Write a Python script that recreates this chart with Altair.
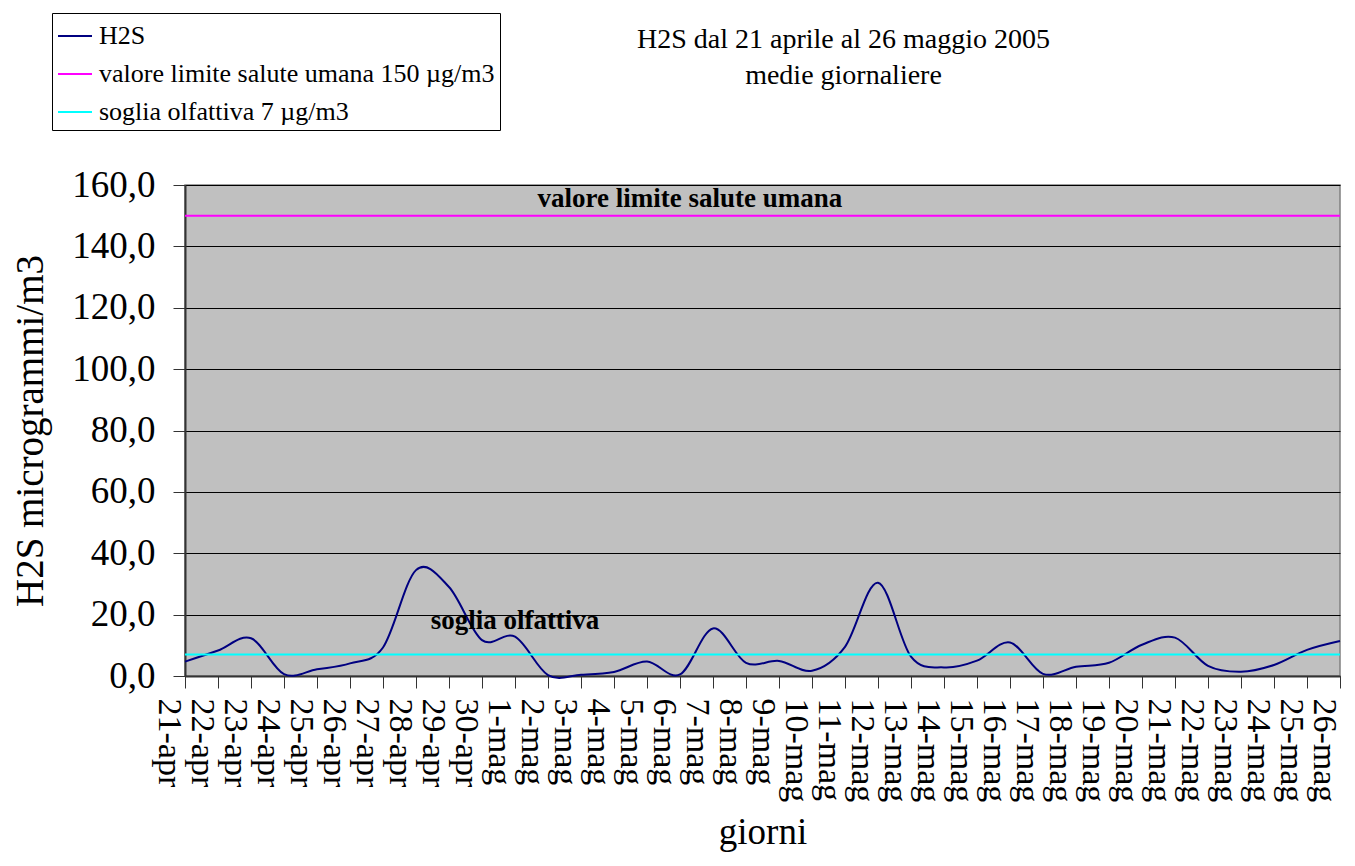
import altair as alt
import pandas as pd

days = ["21-apr", "22-apr", "23-apr", "24-apr", "25-apr", "26-apr", "27-apr", "28-apr",
        "29-apr", "30-apr", "1-mag", "2-mag", "3-mag", "4-mag", "5-mag", "6-mag",
        "7-mag", "8-mag", "9-mag", "10-mag", "11-mag", "12-mag", "13-mag", "14-mag",
        "15-mag", "16-mag", "17-mag", "18-mag", "19-mag", "20-mag", "21-mag", "22-mag",
        "23-mag", "24-mag", "25-mag", "26-mag"]
h2s = [4.7, 8.3, 12.3, 0.6, 2.2, 4.1, 9.3, 34.5, 29.0, 11.7, 12.8, 0.3,
       0.4, 1.3, 4.7, 0.5, 15.5, 4.3, 4.9, 1.7, 9.5, 30.4, 6.3, 2.8,
       5.0, 10.9, 0.7, 3.0, 4.3, 10.2, 12.5, 3.3, 1.4, 3.6, 8.5, 11.4]
limit_value = 150
odour_value = 7

series_names = ["H2S", "valore limite salute umana 150 µg/m3", "soglia olfattiva 7 µg/m3"]
series_colors = ["#000080", "#FF00FF", "#00FFFF"]

notes = ["valore limite salute umana", "soglia olfattiva"]
notes_x = [15.3, 10.0]
notes_y = [152.8, 15.3]

FONT = "Liberation Serif"

idx = list(range(len(days)))
df_h2s = pd.DataFrame({"idx": idx, "value": h2s, "serie": series_names[0]})
df_ref = pd.concat([
    pd.DataFrame({"idx": idx, "value": [limit_value] * len(days), "serie": series_names[1]}),
    pd.DataFrame({"idx": idx, "value": [odour_value] * len(days), "serie": series_names[2]}),
])
df_notes = pd.DataFrame({"label": notes, "idx": notes_x, "value": notes_y})

label_expr = "[" + ",".join("'" + d + "'" for d in days) + "][datum.value]"

x_axis = alt.Axis(values=idx, labelExpr=label_expr, labelAngle=90,
                  labelAlign="left", labelBaseline="top",
                  labelOverlap=False, labelFlush=False, labelBound=False,
                  labelFont=FONT, labelFontSize=34, labelColor="black",
                  labelPadding=10, tickSize=12, tickColor="#333333",
                  domainColor="#333333", domainWidth=2, grid=False,
                  title="giorni", titleFont=FONT, titleFontSize=37,
                  titleFontWeight="normal", titleColor="black",
                  titleBaseline="alphabetic", titleY=167)
y_axis = alt.Axis(values=list(range(0, 161, 20)),
                  labelExpr="replace(format(datum.value, '.1f'), '.', ',')",
                  labelFont=FONT, labelFontSize=37, labelColor="black",
                  labelPadding=18, tickSize=12, tickColor="#333333",
                  domainColor="#333333", domainWidth=2,
                  grid=True, gridColor="black", gridWidth=1,
                  title="H2S microgrammi/m3", titleFont=FONT, titleFontSize=39,
                  titleFontWeight="normal", titleColor="black",
                  titleBaseline="alphabetic", titleX=-143)

x_scale = alt.Scale(domain=[0, len(days) - 1], nice=False, zero=False)
y_scale = alt.Scale(domain=[0, 160], nice=False)

color_enc = alt.Color("serie:N",
                      scale=alt.Scale(domain=series_names, range=series_colors),
                      legend=alt.Legend(title=None, orient="none", legendX=-133, legendY=-172,
                                        symbolType="stroke", symbolSize=1156,
                                        symbolStrokeWidth=2, labelFont=FONT,
                                        labelFontSize=26, labelColor="black",
                                        labelOffset=6, rowPadding=7, padding=5,
                                        strokeColor="black", fillColor="white",
                                        labelLimit=600))

line_h2s = alt.Chart(df_h2s).mark_line(interpolate="cardinal", strokeWidth=2).encode(
    x=alt.X("idx:Q", scale=x_scale, axis=x_axis),
    y=alt.Y("value:Q", scale=y_scale, axis=y_axis),
    color=color_enc)
line_ref = alt.Chart(df_ref).mark_line(strokeWidth=2).encode(
    x=alt.X("idx:Q", scale=x_scale, axis=x_axis),
    y=alt.Y("value:Q", scale=y_scale, axis=y_axis),
    color=color_enc, detail="serie:N")
text_notes = alt.Chart(df_notes).mark_text(font=FONT, fontSize=27, fontWeight="bold",
                                           color="black", align="center",
                                           baseline="alphabetic").encode(
    x=alt.X("idx:Q", scale=x_scale, axis=x_axis),
    y=alt.Y("value:Q", scale=y_scale, axis=y_axis),
    text="label:N")

chart = alt.layer(line_h2s, line_ref, text_notes).properties(
    width=1155, height=491,
    background="white",
    autosize=alt.AutoSizeParams(type="none"),
    padding={"left": 177, "top": 177, "right": 5, "bottom": 182},
    title=alt.TitleParams(text=["H2S dal 21 aprile al 26 maggio 2005", "medie giornaliere"],
                          font=FONT, fontSize=28, fontWeight="normal", color="black",
                          anchor="middle", dx=81, offset=-77, lineHeight=36),
).configure_view(fill="#C0C0C0", stroke="#808080", strokeWidth=1.5)

chart.save("out.html", embed_options={"renderer": "svg", "actions": False})
